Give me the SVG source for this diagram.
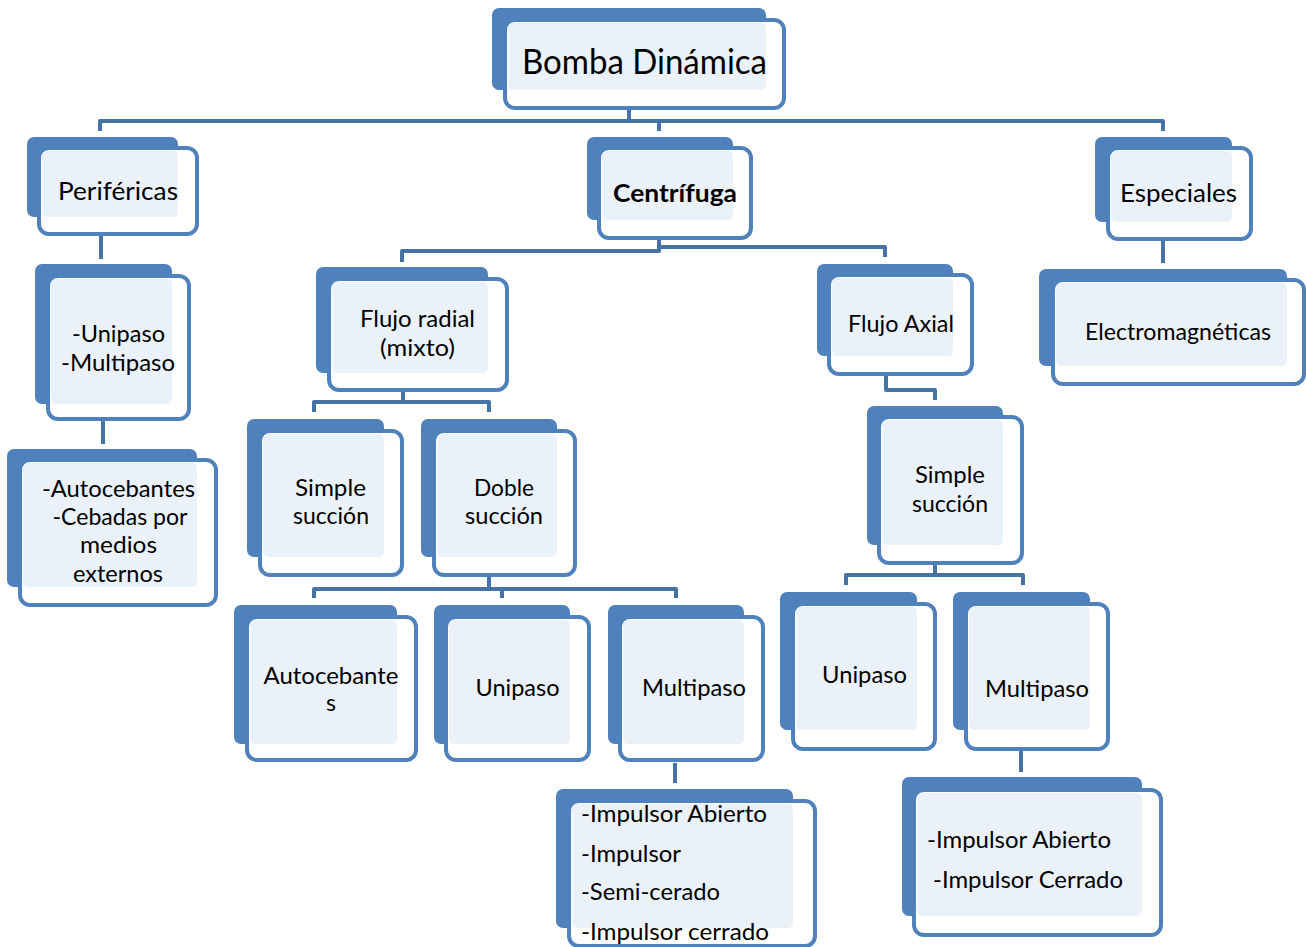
<svg xmlns="http://www.w3.org/2000/svg" width="1306" height="947" viewBox="0 0 1306 947">
<style>
.bk{fill:#4F81BD}
.fr{fill:#FFFFFF;stroke:#4F81BD;stroke-width:4}
.lt{fill:#EBF1F8}
.t{font-family:Lato,'Liberation Sans',sans-serif;font-size:23px;fill:#000000;text-anchor:middle}
.l{text-anchor:start}
.big{font-size:34px}
.mid{font-size:25px}
.b{font-weight:bold}
.cn{fill:none;stroke:#4672A6;stroke-width:4;stroke-linejoin:round}
.st{fill:none;stroke:#D9E3F0;stroke-width:4}
</style>
<rect width="1306" height="947" fill="#FFFFFF"/>
<g id="connectors">
<path class="st" d="M629 96V107M100 222V234M659 226V238M403 378V390M489 562V575M675 748V760M1163 228V239M886 361V374M935 550V563M1021 737V749M103 406V419"/>
<path class="cn" d="M629 108V121M100 131V121H1163V131M659 121V131"/>
<path class="cn" d="M101 236V259"/>
<path class="cn" d="M103 421V444"/>
<path class="cn" d="M659 240V251H402V262M659 247H885V257"/>
<path class="cn" d="M403 392V402M314 412V402H489V412"/>
<path class="cn" d="M489 577V589M314 598V589H676V598M502 589V598"/>
<path class="cn" d="M675 763V783"/>
<path class="cn" d="M1163 241V263"/>
<path class="cn" d="M886 376V390H935V400"/>
<path class="cn" d="M935 565V575M846 585V575H1023V585"/>
<path class="cn" d="M1021 751V772"/>
</g>
<g id="n-bomba">
<rect class="bk" x="492" y="8" width="274" height="82" rx="7"/>
<rect class="fr" x="505" y="20" width="279" height="88" rx="10"/>
<rect class="lt" x="508" y="23" width="258" height="67" rx="5"/>
<text class="t big" x="644.5" y="74" textLength="245" lengthAdjust="spacingAndGlyphs">Bomba Dinámica</text>
</g>
<g id="n-perifericas">
<rect class="bk" x="27" y="137" width="151" height="80" rx="7"/>
<rect class="fr" x="39" y="148" width="158" height="86" rx="10"/>
<rect class="lt" x="42" y="151" width="136" height="66" rx="5"/>
<text class="t mid" x="118" y="200" textLength="120" lengthAdjust="spacingAndGlyphs">Periféricas</text>
</g>
<g id="n-centrifuga">
<rect class="bk" x="587" y="137" width="146" height="83" rx="7"/>
<rect class="fr" x="599" y="148" width="152" height="90" rx="10"/>
<rect class="lt" x="602" y="151" width="131" height="69" rx="5"/>
<text class="t mid b" x="675" y="202" textLength="124" lengthAdjust="spacingAndGlyphs">Centrífuga</text>
</g>
<g id="n-especiales">
<rect class="bk" x="1095" y="137" width="137" height="85" rx="7"/>
<rect class="fr" x="1108" y="148" width="143" height="91" rx="10"/>
<rect class="lt" x="1111" y="151" width="121" height="71" rx="5"/>
<text class="t mid" x="1178.5" y="202" textLength="117" lengthAdjust="spacingAndGlyphs">Especiales</text>
</g>
<g id="n-unimulti">
<rect class="bk" x="35" y="264" width="137" height="140" rx="7"/>
<rect class="fr" x="48" y="276" width="141" height="143" rx="10"/>
<rect class="lt" x="51" y="279" width="121" height="125" rx="5"/>
<text class="t" x="118.5" y="342" textLength="93" lengthAdjust="spacingAndGlyphs">-Unipaso</text>
<text class="t" x="118" y="371" textLength="114" lengthAdjust="spacingAndGlyphs">-Multipaso</text>
</g>
<g id="n-autocebantes-list">
<rect class="bk" x="7" y="449" width="190" height="138" rx="7"/>
<rect class="fr" x="20" y="460" width="196" height="145" rx="10"/>
<rect class="lt" x="23" y="463" width="174" height="124" rx="5"/>
<text class="t" x="118.5" y="497" textLength="153" lengthAdjust="spacingAndGlyphs">-Autocebantes</text>
<text class="t" x="120" y="525" textLength="135" lengthAdjust="spacingAndGlyphs">-Cebadas por</text>
<text class="t" x="118.5" y="553" textLength="77" lengthAdjust="spacingAndGlyphs">medios</text>
<text class="t" x="118" y="582" textLength="90" lengthAdjust="spacingAndGlyphs">externos</text>
</g>
<g id="n-flujo-radial">
<rect class="bk" x="316" y="267" width="172" height="106" rx="7"/>
<rect class="fr" x="329" y="279" width="178" height="111" rx="10"/>
<rect class="lt" x="332" y="282" width="156" height="91" rx="5"/>
<text class="t" x="417.5" y="327" textLength="115" lengthAdjust="spacingAndGlyphs">Flujo radial</text>
<text class="t" x="417.5" y="356" textLength="75" lengthAdjust="spacingAndGlyphs">(mixto)</text>
</g>
<g id="n-flujo-axial">
<rect class="bk" x="817" y="264" width="136" height="92" rx="7"/>
<rect class="fr" x="829" y="275" width="143" height="99" rx="10"/>
<rect class="lt" x="832" y="278" width="121" height="78" rx="5"/>
<text class="t" x="901" y="332" textLength="106" lengthAdjust="spacingAndGlyphs">Flujo Axial</text>
</g>
<g id="n-electromagneticas">
<rect class="bk" x="1039" y="269" width="248" height="97" rx="7"/>
<rect class="fr" x="1053" y="280" width="251" height="104" rx="10"/>
<rect class="lt" x="1056" y="283" width="231" height="83" rx="5"/>
<text class="t" x="1178" y="340" textLength="186" lengthAdjust="spacingAndGlyphs">Electromagnéticas</text>
</g>
<g id="n-simple-1">
<rect class="bk" x="247" y="419" width="137" height="138" rx="7"/>
<rect class="fr" x="260" y="431" width="142" height="144" rx="10"/>
<rect class="lt" x="263" y="434" width="121" height="123" rx="5"/>
<text class="t" x="330.5" y="496" textLength="71" lengthAdjust="spacingAndGlyphs">Simple</text>
<text class="t" x="331" y="524" textLength="76" lengthAdjust="spacingAndGlyphs">succión</text>
</g>
<g id="n-doble">
<rect class="bk" x="421" y="419" width="136" height="138" rx="7"/>
<rect class="fr" x="434" y="431" width="141" height="144" rx="10"/>
<rect class="lt" x="437" y="434" width="120" height="123" rx="5"/>
<text class="t" x="504" y="496" textLength="60" lengthAdjust="spacingAndGlyphs">Doble</text>
<text class="t" x="504" y="524" textLength="78" lengthAdjust="spacingAndGlyphs">succión</text>
</g>
<g id="n-simple-2">
<rect class="bk" x="867" y="406" width="136" height="139" rx="7"/>
<rect class="fr" x="879" y="417" width="143" height="146" rx="10"/>
<rect class="lt" x="882" y="420" width="121" height="125" rx="5"/>
<text class="t" x="950" y="483" textLength="70" lengthAdjust="spacingAndGlyphs">Simple</text>
<text class="t" x="950" y="512" textLength="76" lengthAdjust="spacingAndGlyphs">succión</text>
</g>
<g id="n-autocebante">
<rect class="bk" x="234" y="605" width="163" height="139" rx="7"/>
<rect class="fr" x="247" y="617" width="169" height="143" rx="10"/>
<rect class="lt" x="250" y="620" width="147" height="124" rx="5"/>
<text class="t" x="331" y="684" textLength="135" lengthAdjust="spacingAndGlyphs">Autocebante</text>
<text class="t" x="331" y="711">s</text>
</g>
<g id="n-unipaso-1">
<rect class="bk" x="434" y="605" width="136" height="139" rx="7"/>
<rect class="fr" x="446" y="617" width="143" height="143" rx="10"/>
<rect class="lt" x="449" y="620" width="121" height="124" rx="5"/>
<text class="t" x="517.5" y="696" textLength="84" lengthAdjust="spacingAndGlyphs">Unipaso</text>
</g>
<g id="n-multipaso-1">
<rect class="bk" x="608" y="605" width="136" height="139" rx="7"/>
<rect class="fr" x="620" y="617" width="143" height="143" rx="10"/>
<rect class="lt" x="623" y="620" width="121" height="124" rx="5"/>
<text class="t" x="694" y="696" textLength="104" lengthAdjust="spacingAndGlyphs">Multipaso</text>
</g>
<g id="n-unipaso-2">
<rect class="bk" x="780" y="592" width="137" height="138" rx="7"/>
<rect class="fr" x="793" y="604" width="142" height="145" rx="10"/>
<rect class="lt" x="796" y="607" width="121" height="123" rx="5"/>
<text class="t" x="864.5" y="683" textLength="85" lengthAdjust="spacingAndGlyphs">Unipaso</text>
</g>
<g id="n-multipaso-2">
<rect class="bk" x="953" y="592" width="137" height="138" rx="7"/>
<rect class="fr" x="966" y="604" width="142" height="145" rx="10"/>
<rect class="lt" x="969" y="607" width="121" height="123" rx="5"/>
<text class="t" x="1037" y="697" textLength="104" lengthAdjust="spacingAndGlyphs">Multipaso</text>
</g>
<g id="n-impulsor-1">
<rect class="bk" x="556" y="789" width="237" height="139" rx="7"/>
<rect class="fr" x="569" y="801" width="246" height="145" rx="10"/>
<rect class="lt" x="572" y="804" width="221" height="124" rx="5"/>
<text class="t l" x="581" y="822" textLength="186" lengthAdjust="spacingAndGlyphs">-Impulsor Abierto</text>
<text class="t l" x="581" y="862" textLength="100" lengthAdjust="spacingAndGlyphs">-Impulsor</text>
<text class="t l" x="581" y="900" textLength="139" lengthAdjust="spacingAndGlyphs">-Semi-cerado</text>
<text class="t l" x="581" y="940" textLength="188" lengthAdjust="spacingAndGlyphs">-Impulsor cerrado</text>
</g>
<g id="n-impulsor-2">
<rect class="bk" x="902" y="777" width="240" height="139" rx="7"/>
<rect class="fr" x="914" y="790" width="247" height="145" rx="10"/>
<rect class="lt" x="917" y="793" width="225" height="123" rx="5"/>
<text class="t l" x="927" y="848" textLength="184" lengthAdjust="spacingAndGlyphs">-Impulsor Abierto</text>
<text class="t l" x="933" y="888" textLength="190" lengthAdjust="spacingAndGlyphs">-Impulsor Cerrado</text>
</g>
</svg>
